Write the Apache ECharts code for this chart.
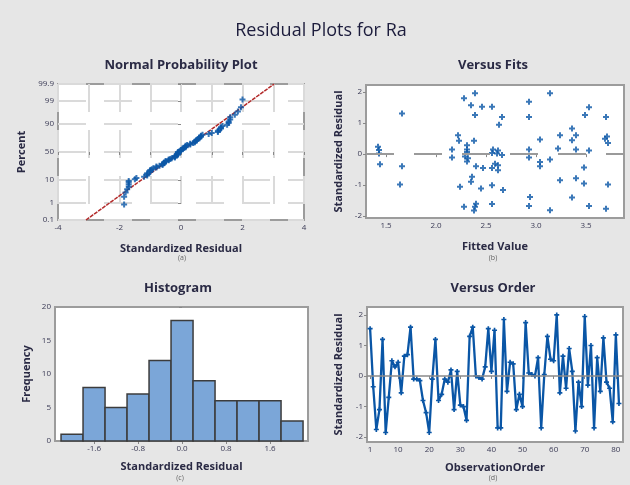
<!DOCTYPE html>
<html><head><meta charset="utf-8">
<script src="https://cdn.jsdelivr.net/npm/echarts@6.0.0/dist/echarts.min.js"></script>
<style>html,body{margin:0;padding:0;background:#e6e6e6}#c{width:630px;height:485px}</style>
</head><body><div id="c"></div><script>
// ---------- data ----------
const orderResid = [1.55,-0.35,-1.75,-1.1,1.2,-1.85,-0.7,0.5,0.3,0.45,-0.55,0.65,0.7,1.6,-0.1,-0.1,-0.15,-0.8,-1.2,-1.85,
  -0.1,1.2,-0.8,-0.6,-0.1,-0.2,0.2,-1.1,0.15,-0.95,-1.0,-1.45,1.3,1.6,0.0,-0.05,-0.1,0.3,1.55,0.15,
  1.5,-1.7,-1.7,1.85,-0.5,0.45,0.4,-1.1,-0.6,-1.0,1.75,0.1,0.05,0.0,0.6,-1.7,0.05,1.3,0.55,0.5,
  2.0,-0.55,0.65,-0.4,0.9,0.15,-1.8,-0.2,-1.0,1.95,-0.3,1.0,-1.7,0.6,-0.5,1.25,-0.2,-0.4,-1.5,1.35,-0.9];
const fitValues = [1.42,1.43,1.43,1.44,1.66,1.66,1.64,2.16,2.16,2.22,2.23,2.24,2.28,2.28,2.31,2.31,2.29,2.31,2.32,2.35,
  2.36,2.35,2.38,2.39,2.39,2.40,2.39,2.38,2.45,2.46,2.47,2.56,2.56,2.56,2.56,2.56,2.66,2.63,2.61,2.62,
  2.66,2.59,2.62,2.62,2.67,2.93,2.93,2.93,2.93,2.94,2.93,3.04,3.04,3.04,3.14,3.14,3.14,3.24,3.22,3.24,
  3.36,3.36,3.40,3.40,3.40,3.36,3.49,3.53,3.53,3.48,3.48,3.53,3.70,3.71,3.72,3.69,3.72,3.70,2.57,2.31,2.40];
const fitResid = [0.24,0.13,0.02,-0.33,1.31,-0.39,-0.98,0.15,-0.11,0.61,0.43,-1.05,1.80,-1.70,0.29,0.07,-0.08,-0.24,-0.13,1.58,
  -0.73,-0.89,0.43,1.96,1.26,-0.39,-1.70,-1.82,-1.11,1.53,-0.45,1.53,0.04,-0.45,-1.00,-1.61,1.20,0.95,0.02,0.12,
  -0.03,-0.31,-0.36,-0.52,-1.16,1.69,1.20,0.15,-0.11,-1.38,-1.67,0.47,-0.25,-0.39,1.96,-0.17,-1.81,0.61,0.18,-0.84,
  0.83,0.45,0.61,0.15,-0.78,-1.40,1.26,1.51,0.12,-0.43,-0.95,-1.67,1.20,0.57,0.36,0.50,-0.98,-1.76,0.15,0.15,-1.60];
const histCenters = [-2.0,-1.6,-1.2,-0.8,-0.4,0.0,0.4,0.8,1.2,1.6,2.0];
const histCounts  = [1,8,5,7,12,18,9,6,6,6,3];
const pctTicks  = [0.1,1,10,50,90,99,99.9];
const pctLabels = ['0.1','1','10','50','90','99','99.9'];
const fitLinePct = [0.1,99.9];
const fitLineX   = [-3.09,3.03];
const fvXTicks   = [1.5,2.0,2.5,3.0,3.5];
const residTicks = [-2,-1,0,1,2];
const histXTicks = [-1.6,-0.8,0.0,0.8,1.6];
const histYTicks = [0,5,10,15,20];
const orderTicks = [1,10,20,30,40,50,60,70,80];

// ---------- helpers ----------
function probit(p){
  const a=[-3.969683028665376e+01,2.209460984245205e+02,-2.759285104469687e+02,1.383577518672690e+02,-3.066479806614716e+01,2.506628277459239e+00];
  const b=[-5.447609879822406e+01,1.615858368580409e+02,-1.556989798598866e+02,6.680131188771972e+01,-1.328068155288572e+01];
  const c=[-7.784894002430293e-03,-3.223964580411365e-01,-2.400758277161838e+00,-2.549671010229422e+00,4.374664141464968e+00,2.938163982698783e+00];
  const d=[7.784695709041462e-03,3.224671290700398e-01,2.445134137142996e+00,3.754408661907416e+00];
  const pl=0.02425, ph=1-pl; let q,r;
  if(p<pl){q=Math.sqrt(-2*Math.log(p));return (((((c[0]*q+c[1])*q+c[2])*q+c[3])*q+c[4])*q+c[5])/((((d[0]*q+d[1])*q+d[2])*q+d[3])*q+1);}
  if(p<=ph){q=p-0.5;r=q*q;return (((((a[0]*r+a[1])*r+a[2])*r+a[3])*r+a[4])*r+a[5])*q/(((((b[0]*r+b[1])*r+b[2])*r+b[3])*r+b[4])*r+1);}
  q=Math.sqrt(-2*Math.log(1-p));return -(((((c[0]*q+c[1])*q+c[2])*q+c[3])*q+c[4])*q+c[5])/((((d[0]*q+d[1])*q+d[2])*q+d[3])*q+1);
}
const n = orderResid.length;
const sorted = orderResid.slice().sort((x,y)=>x-y);
const npData = sorted.map((v,i)=>[v, probit((i+1-0.3)/(n+0.4))]);
const zTicks = pctTicks.map(p=>probit(p/100));
const zMax = Math.max(Math.abs(zTicks[0]),Math.abs(zTicks[zTicks.length-1])) + 1e-6;
const fitLine = fitLineX.map((x,i)=>[x, probit(fitLinePct[i]/100)]);

const FONT = "'Open Sans','Noto Sans',sans-serif";
const BLUE = '#0a56a6';
const CROSS = 'path://M2 0H4V2H6V4H4V6H2V4H0V2H2Z';
const TXT = '#2a2a44';
const lbl = (extra)=>Object.assign({fontSize:8,color:'#3a3a55',fontFamily:FONT,margin:4},extra||{});
const tick = (vals)=>({show:true,length:3,lineStyle:{color:'#888'},customValues:vals});
const nameStyleX = {fontSize:11,color:TXT,fontFamily:FONT,fontWeight:'bold'};
const nameStyleY = {fontSize:11,color:TXT,fontFamily:FONT,fontWeight:'bold'};
const gridBase = {show:true,backgroundColor:'#ffffff',borderColor:'#9c9c9c',borderWidth:2,containLabel:false};
const titleStyle = (t,x,y)=>({type:'text',x:x,y:y,style:{text:t,align:'center',verticalAlign:'middle',fontSize:13,fontWeight:'bold',fontFamily:FONT,fill:TXT}});
const subStyle = (t,x,y)=>({type:'text',x:x,y:y,style:{text:t,align:'center',verticalAlign:'middle',fontSize:7,fontFamily:FONT,fill:'#666'}});

const chart = echarts.init(document.getElementById('c'),null,{renderer:'canvas'});
const option = {
  backgroundColor:'#e6e6e6',
  animation:false,
  grid:[
    Object.assign({left:58,top:84,width:246,height:136},gridBase),
    Object.assign({left:366,top:85,width:258,height:133},gridBase),
    Object.assign({left:55,top:307,width:253,height:134},gridBase),
    Object.assign({left:367,top:307,width:256,height:135},gridBase)
  ],
  xAxis:[
    {gridIndex:0,type:'value',min:-4,max:4,interval:1,
     axisLine:{show:false},axisTick:{show:true,length:3,lineStyle:{color:'#888'}},
     axisLabel:lbl({formatter:v=>(v%2===0?String(v):'')}),
     splitLine:{show:true,lineStyle:{color:'#dadada',width:2,type:[28,18]}},
     name:'Standardized Residual',nameLocation:'middle',nameGap:23,nameTextStyle:nameStyleX},
    {gridIndex:1,type:'value',min:1.3,max:3.88,
     axisLine:{show:false},axisTick:tick(fvXTicks),
     axisLabel:lbl({customValues:fvXTicks,formatter:v=>v.toFixed(1)}),
     splitLine:{show:false},
     name:'Fitted Value',nameLocation:'middle',nameGap:23,nameTextStyle:nameStyleX},
    {gridIndex:2,type:'value',min:-2.31,max:2.29,
     axisLine:{show:false},axisTick:tick(histXTicks),
     axisLabel:lbl({customValues:histXTicks,formatter:v=>v.toFixed(1)}),
     splitLine:{show:false},
     name:'Standardized Residual',nameLocation:'middle',nameGap:20,nameTextStyle:nameStyleX},
    {gridIndex:3,type:'value',min:0,max:82.3,
     axisLine:{show:false},axisTick:tick(orderTicks),
     axisLabel:lbl({customValues:orderTicks}),
     splitLine:{show:false},
     name:'ObservationOrder',nameLocation:'middle',nameGap:20,nameTextStyle:nameStyleX}
  ],
  yAxis:[
    {gridIndex:0,type:'value',min:-zMax,max:zMax,
     axisLine:{show:false},axisTick:tick(zTicks),
     axisLabel:lbl({customValues:zTicks,formatter:v=>{let k=0,best=1e9;zTicks.forEach((z,i)=>{if(Math.abs(z-v)<best){best=Math.abs(z-v);k=i;}});return pctLabels[k];}}),
     splitLine:{show:true,lineStyle:{color:'#dadada',width:2,type:[28,18]}},
     name:'Percent',nameLocation:'middle',nameGap:31,nameRotate:90,nameTextStyle:nameStyleY},
    {gridIndex:1,type:'value',min:-2.06,max:2.23,
     axisLine:{show:false},axisTick:tick(residTicks),
     axisLabel:lbl({customValues:residTicks}),
     splitLine:{show:false},
     name:'Standardized Residual',nameLocation:'middle',nameGap:22,nameRotate:90,nameTextStyle:nameStyleY},
    {gridIndex:2,type:'value',min:0,max:20,
     axisLine:{show:false},axisTick:tick(histYTicks),
     axisLabel:lbl({customValues:histYTicks}),
     splitLine:{show:false},
     name:'Frequency',nameLocation:'middle',nameGap:23,nameRotate:90,nameTextStyle:nameStyleY},
    {gridIndex:3,type:'value',min:-2.16,max:2.26,
     axisLine:{show:false},axisTick:tick(residTicks),
     axisLabel:lbl({customValues:residTicks}),
     splitLine:{show:false},
     name:'Standardized Residual',nameLocation:'middle',nameGap:23,nameRotate:90,nameTextStyle:nameStyleY}
  ],
  series:[
    {type:'line',xAxisIndex:0,yAxisIndex:0,data:fitLine,symbol:'none',z:2,
     lineStyle:{color:'#b32a2a',width:1.5,type:[4,1]}},
    {type:'scatter',xAxisIndex:0,yAxisIndex:0,data:npData,symbol:CROSS,symbolSize:6,z:3,
     itemStyle:{color:BLUE}},
    {type:'scatter',xAxisIndex:1,yAxisIndex:1,data:fitValues.map((f,i)=>[f,fitResid[i]]),symbol:CROSS,symbolSize:6,z:3,
     itemStyle:{color:BLUE},
     markLine:{silent:true,symbol:'none',label:{show:false},lineStyle:{color:'#9a9a9a',width:2,type:[28,20]},data:[{yAxis:0}]}},
    {type:'custom',xAxisIndex:2,yAxisIndex:2,data:histCenters.map((c,i)=>[c,histCounts[i]]),
     renderItem:function(params,api){
       const w = (histCenters[1]-histCenters[0])/2;
       const c = api.value(0), h = api.value(1);
       const p1 = api.coord([c-w,h]), p2 = api.coord([c+w,0]);
       return {type:'rect',shape:{x:p1[0],y:p1[1],width:p2[0]-p1[0],height:p2[1]-p1[1]},
         style:{fill:'#7ba6d8',stroke:'#3c3c3c',lineWidth:1.5}};
     }},
    {type:'line',xAxisIndex:3,yAxisIndex:3,data:[],z:1,
     markLine:{silent:true,symbol:'none',label:{show:false},lineStyle:{color:'#8a8a8a',width:1.5,type:'solid'},data:[{yAxis:0}]}},
    {type:'line',xAxisIndex:3,yAxisIndex:3,data:orderResid.map((v,i)=>[i+1,v]),z:3,
     symbol:CROSS,symbolSize:5,showAllSymbol:true,
     lineStyle:{color:BLUE,width:2.3},itemStyle:{color:BLUE}}
  ],
  graphic:[
    {type:'text',x:321,y:31,style:{text:'Residual Plots for Ra',align:'center',verticalAlign:'middle',fontSize:18,fontWeight:'normal',fontFamily:FONT,fill:'#1c1c3c'}},
    titleStyle('Normal Probability Plot',181,65),
    titleStyle('Versus Fits',493,65),
    titleStyle('Histogram',178,288),
    titleStyle('Versus Order',493,288),
    subStyle('(a)',182,258),
    subStyle('(b)',493,258),
    subStyle('(c)',180,478),
    subStyle('(d)',493,478)
  ]
};
chart.setOption(option);
</script></body></html>
